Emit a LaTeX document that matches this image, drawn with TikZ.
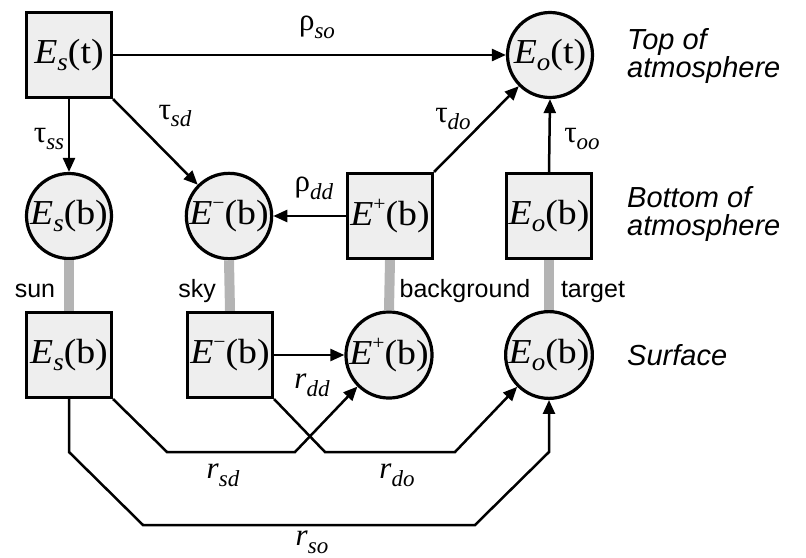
\documentclass[tikz,border=0pt]{standalone}
\usepackage{fontspec}
\setmainfont{Liberation Serif}
\newfontfamily\nfont{Liberation Serif}[FakeStretch=1.08]
\newfontfamily\sfont{Liberation Sans}
\usetikzlibrary{arrows.meta}
\definecolor{nodegray}{RGB}{238,238,238}
\definecolor{bargray}{RGB}{180,180,180}
\newcommand{\Esub}[2]{\textit{E}\raisebox{-0.22em}{\fontsize{25}{25}\selectfont\textit{#1}}(#2)}
\newcommand{\Esup}[2]{\textit{E}\raisebox{0.42em}{\fontsize{20}{20}\selectfont #1}(#2)}
\newcommand{\cf}[2]{#1\raisebox{-0.25em}{\fontsize{23}{23}\selectfont\textit{#2}}}
\begin{document}
\begin{tikzpicture}[x=1pt,y=-1pt,
  every node/.style={inner sep=0pt},
  boxnode/.style={draw,line width=3.2pt,fill=nodegray,minimum width=85pt,minimum height=85pt,
    font=\nfont\fontsize{35}{35}\selectfont},
  circnode/.style={draw,circle,line width=3.2pt,fill=nodegray,minimum size=85pt,
    font=\nfont\fontsize{35}{35}\selectfont},
  arr/.style={line width=2.5pt,-{Triangle[length=14pt,width=12pt]}},
  bar/.style={line width=10pt,draw=bargray},
  coef/.style={font=\fontsize{31}{31}\selectfont},
  lab/.style={font=\sfont\fontsize{25}{25}\selectfont,anchor=base},
  lvl/.style={font=\sfont\itshape\fontsize{29}{28}\selectfont,align=left,anchor=west}
]
\useasboundingbox (0,0) rectangle (806,557);
% nodes
\node[boxnode]  (Est)  at (69,55)   {\Esub{s}{t}};
\node[circnode] (Eot)  at (550,55)  {\Esub{o}{t}};
\node[circnode] (Esb1) at (69,216)  {\Esub{s}{b}};
\node[circnode] (Emb1) at (229,216) {\Esup{−}{b}};
\node[boxnode]  (Epb1) at (390,216) {\Esup{+}{b}};
\node[boxnode]  (Eob1) at (549,216) {\Esub{o}{b}};
\node[boxnode]  (Esb2) at (69,355)  {\Esub{s}{b}};
\node[boxnode]  (Emb2) at (230,355) {\Esup{−}{b}};
\node[circnode] (Epb2) at (389,355) {\Esup{+}{b}};
\node[circnode] (Eob2) at (549,355) {\Esub{o}{b}};
% gray links
\draw[bar] (Esb1.south) -- (Esb2.north);
\draw[bar] (Emb1.south) -- (Emb2.north);
\draw[bar] (Epb1.south) -- (Epb2.north);
\draw[bar] (Eob1.south) -- (Eob2.north);
% labels of links
\node[lab] (lsun) at (35,297) {sun};
\node[lab] (lsky) at (197,297) {sky};
\node[lab] (lbg)  at (465,297) {background};
\node[lab] (ltg)  at (593,297) {target};
% level labels
\node[lvl] (ltop) at (627,56)  {Top of\\atmosphere};
\node[lvl] (lbot) at (627,214) {Bottom of\\atmosphere};
\node[lvl] (lsurf) at (627,355) {Surface};
% arrows
\draw[arr] (Est.east) -- (Eot.west);
\draw[arr] (Est.south) -- (Esb1.north);
\draw[arr] (Est.south east) -- (Emb1.135);
\draw[arr] (Epb1.west) -- (Emb1.east);
\draw[arr] (Epb1.north east) -- (Eot.225);
\draw[arr] (Eob1.north) -- (Eot.south);
\draw[arr] (Emb2.east) -- (Epb2.west);
\draw[arr] (Esb2.south east) -- (167,452) -- (295,452) -- (Epb2.225);
\draw[arr] (Emb2.south east) -- (325,452) -- (455,452) -- (Eob2.225);
\draw[arr] (Esb2.south) -- (69,452) -- (143,525) -- (475,525) -- (549,452) -- (Eob2.south);
% coefficient labels
\node[coef] (rso) at (317,27)  {\cf{ρ}{so}};
\node[coef] (tss) at (49,139)  {\cf{τ}{ss}};
\node[coef] (tsd) at (175,116) {\cf{τ}{sd}};
\node[coef] (rdd) at (314,188) {\cf{ρ}{dd}};
\node[coef] (tdo) at (453,119) {\cf{τ}{do}};
\node[coef] (too) at (582,139) {\cf{τ}{oo}};
\node[coef] (Rdd) at (312,385) {\cf{\textit{r}}{dd}};
\node[coef] (Rsd) at (223,475) {\cf{\textit{r}}{sd}};
\node[coef] (Rdo) at (397,475) {\cf{\textit{r}}{do}};
\node[coef] (Rso) at (312,542) {\cf{\textit{r}}{so}};
\end{tikzpicture}
\end{document}
